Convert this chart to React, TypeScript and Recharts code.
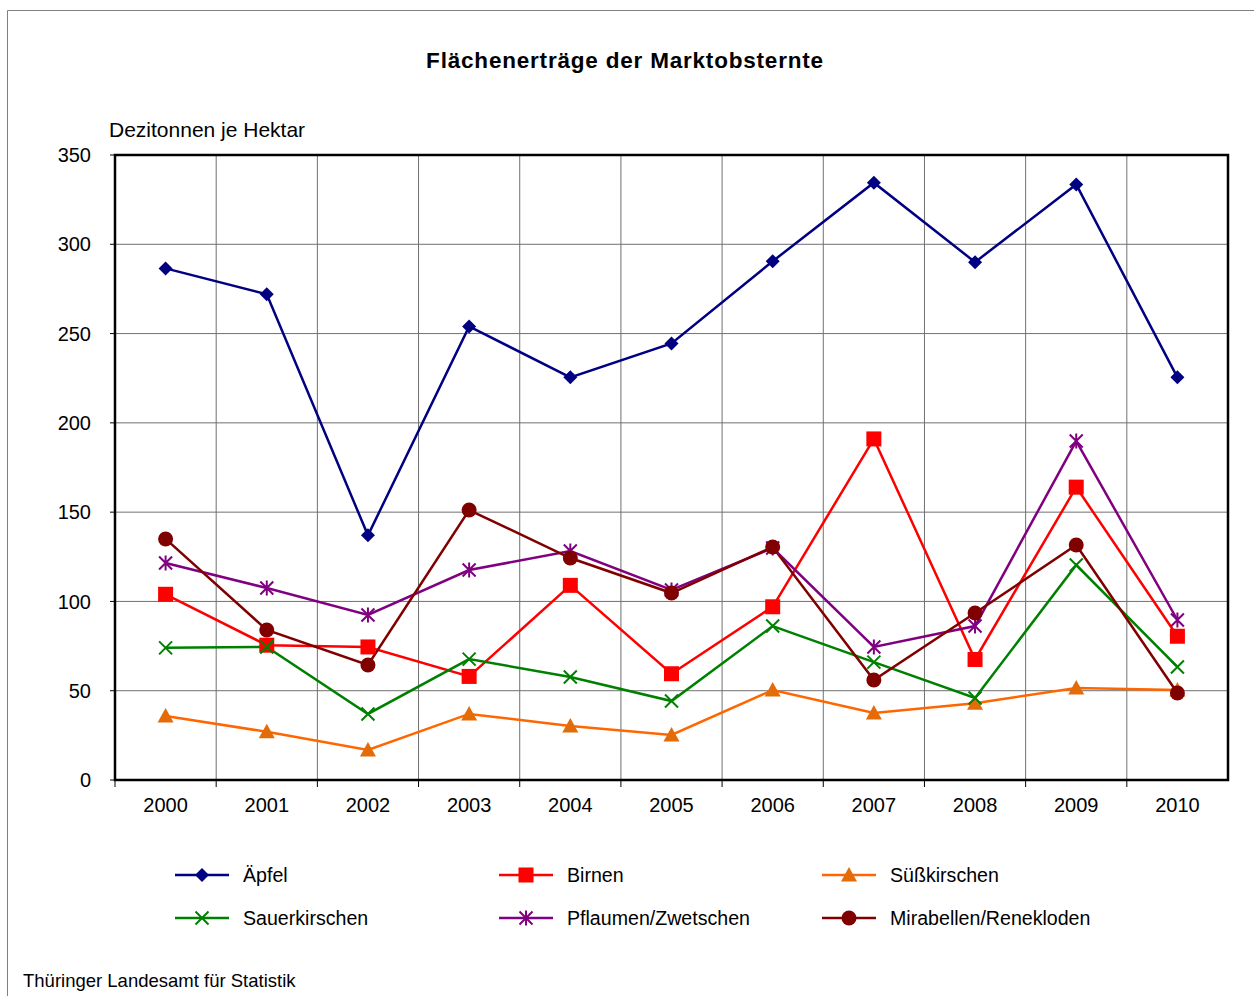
import React from "react";
import { LineChart, Line, XAxis, YAxis, CartesianGrid, ReferenceArea } from "recharts";

const years = ["2000", "2001", "2002", "2003", "2004", "2005", "2006", "2007", "2008", "2009", "2010"];
const aepfel = [286.5, 272, 137, 254, 225.5, 244.5, 290.5, 334.5, 290, 333.5, 225.5];
const birnen = [104, 75.5, 74.5, 58, 109, 59.5, 97, 191, 67.5, 164, 80.5];
const suesskirschen = [35.8, 27, 16.8, 37, 30.2, 25.2, 50.4, 37.5, 43, 51.5, 50.4];
const sauerkirschen = [74, 74.5, 37, 67.7, 57.7, 44.2, 86.2, 66, 45.9, 120.4, 63.3];
const pflaumen = [121.5, 107.5, 92.4, 117.6, 128.2, 106.4, 129.9, 74.5, 86.2, 189.8, 89.6];
const mirabellen = [135, 84, 64.4, 151.2, 124.3, 104.7, 130.5, 56, 93.5, 131.6, 48.7];
const yTicks = [0, 50, 100, 150, 200, 250, 300, 350];

const data = years.map((y, i) => ({
  x: i,
  year: y,
  aepfel: aepfel[i],
  birnen: birnen[i],
  suess: suesskirschen[i],
  sauer: sauerkirschen[i],
  pflaumen: pflaumen[i],
  mirabellen: mirabellen[i],
}));

const xTicks: number[] = [];
for (let i = 0; i <= 21; i++) xTicks.push(-0.5 + i * 0.5);

const FONT = "Arial, 'Liberation Sans', Helvetica, sans-serif";

type Shape = "diamond" | "square" | "triangle" | "x" | "star" | "circle";

function marker(shape: Shape, cx: number, cy: number, color: string, key?: any) {
  switch (shape) {
    case "diamond":
      return <path key={key} d={`M${cx},${cy - 7} L${cx + 7},${cy} L${cx},${cy + 7} L${cx - 7},${cy} Z`} fill={color} />;
    case "square":
      return <rect key={key} x={cx - 7.5} y={cy - 7.5} width={15} height={15} fill={color} />;
    case "triangle":
      return <path key={key} d={`M${cx},${cy - 8} L${cx + 8},${cy + 6.5} L${cx - 8},${cy + 6.5} Z`} fill={color} />;
    case "x":
      return (
        <path key={key} d={`M${cx - 6.5},${cy - 6.5} L${cx + 6.5},${cy + 6.5} M${cx - 6.5},${cy + 6.5} L${cx + 6.5},${cy - 6.5}`} stroke={color} strokeWidth={2} fill="none" />
      );
    case "star":
      return (
        <path
          key={key}
          d={`M${cx - 6.5},${cy - 6.5} L${cx + 6.5},${cy + 6.5} M${cx - 6.5},${cy + 6.5} L${cx + 6.5},${cy - 6.5} M${cx},${cy - 7.5} L${cx},${cy + 7.5}`}
          stroke={color}
          strokeWidth={2}
          fill="none"
        />
      );
    case "circle":
    default:
      return <circle key={key} cx={cx} cy={cy} r={7.5} fill={color} />;
  }
}

const series: { key: string; name: string; line: string; mark: string; shape: Shape }[] = [
  { key: "aepfel", name: "Äpfel", line: "#000080", mark: "#000080", shape: "diamond" },
  { key: "birnen", name: "Birnen", line: "#FF0000", mark: "#FF0000", shape: "square" },
  { key: "suess", name: "Süßkirschen", line: "#FF6600", mark: "#E36C09", shape: "triangle" },
  { key: "sauer", name: "Sauerkirschen", line: "#008000", mark: "#008000", shape: "x" },
  { key: "pflaumen", name: "Pflaumen/Zwetschen", line: "#800080", mark: "#800080", shape: "star" },
  { key: "mirabellen", name: "Mirabellen/Renekloden", line: "#800000", mark: "#800000", shape: "circle" },
];

const XTick = (props: any) => {
  const { x, y, payload } = props;
  const v = payload.value;
  if (Number.isInteger(v)) {
    return (
      <text x={x} y={y + 32} textAnchor="middle" fontSize={20} fontFamily={FONT} fill="#000">
        {years[v]}
      </text>
    );
  }
  return <line x1={x} x2={x} y1={y} y2={y + 7} stroke="#000" strokeWidth={1} />;
};

const legendCols = [175, 499, 822];
const legendRows = [875, 918];

export default function App() {
  return (
    <div style={{ position: "absolute", left: 0, top: 0, width: 1254, height: 996, background: "#fff", overflow: "hidden" }}>
      <LineChart width={1254} height={996} data={data} margin={{ top: 155, right: 26, bottom: 186, left: 55 }}>
        <CartesianGrid
          stroke="#707070"
          strokeWidth={1}
          verticalCoordinatesGenerator={(p: any) => {
            const off = p.offset;
            const out: number[] = [];
            for (let i = 1; i < years.length; i++) out.push(off.left + (i * off.width) / years.length);
            return out;
          }}
        />
        <XAxis
          dataKey="x"
          type="number"
          domain={[-0.5, 10.5]}
          ticks={xTicks}
          interval={0}
          tick={<XTick />}
          tickLine={false}
          tickSize={0}
          tickMargin={0}
          height={30}
          axisLine={{ stroke: "#000", strokeWidth: 2 }}
        />
        <YAxis
          domain={[0, 350]}
          ticks={yTicks}
          interval={0}
          width={60}
          tickSize={5}
          tickMargin={19}
          tickLine={{ stroke: "#000" }}
          axisLine={{ stroke: "#000", strokeWidth: 2 }}
          tick={{ fontSize: 20, fontFamily: FONT, fill: "#000" }}
        />
        <ReferenceArea x1={-0.5} x2={10.5} y1={0} y2={350} fill="none" stroke="#000" strokeWidth={2.5} ifOverflow="visible" />
        {series.map((s) => (
          <Line
            key={s.key}
            dataKey={s.key}
            name={s.name}
            stroke={s.line}
            strokeWidth={2.5}
            isAnimationActive={false}
            dot={(p: any) => marker(s.shape, p.cx, p.cy, s.mark, `${s.key}-${p.index}`)}
            activeDot={false}
          />
        ))}
      </LineChart>
      <svg width={1254} height={996} style={{ position: "absolute", left: 0, top: 0, pointerEvents: "none" }}>
        <path d="M7.5,996 L7.5,10.5 L1254,10.5" fill="none" stroke="#808080" strokeWidth={1} />
        <text x={625} y={68} textAnchor="middle" fontSize={22.5} fontWeight="bold" letterSpacing={0.8} fontFamily={FONT} fill="#000">
          Flächenerträge der Marktobsternte
        </text>
        <text x={109} y={137} fontSize={21} fontFamily={FONT} fill="#000">
          Dezitonnen je Hektar
        </text>
        <text x={23} y={987} fontSize={18.5} fontFamily={FONT} fill="#000">
          Thüringer Landesamt für Statistik
        </text>
        {series.map((s, i) => {
          const col = legendCols[i % 3];
          const row = legendRows[Math.floor(i / 3)];
          return (
            <g key={s.key}>
              <line x1={col} x2={col + 54} y1={row} y2={row} stroke={s.line} strokeWidth={2.5} />
              {marker(s.shape, col + 27, row, s.mark)}
              <text x={col + 68} y={row + 7} fontSize={19.6} fontFamily={FONT} fill="#000">
                {s.name}
              </text>
            </g>
          );
        })}
      </svg>
    </div>
  );
}
